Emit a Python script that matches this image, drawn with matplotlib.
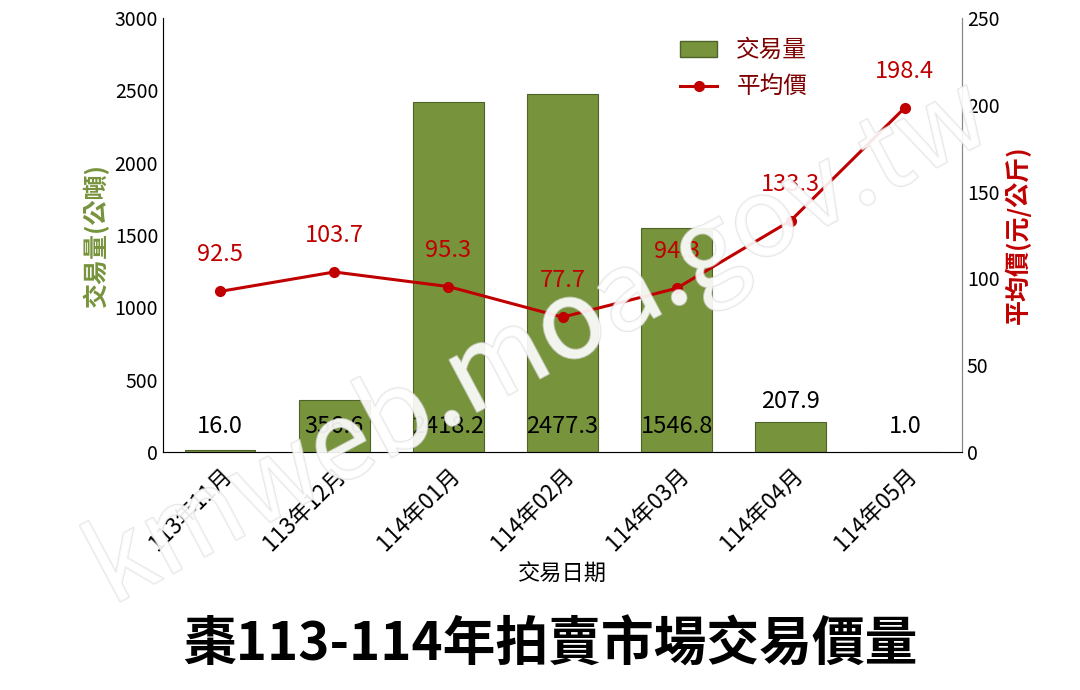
import matplotlib
matplotlib.use("Agg")
import matplotlib.pyplot as plt
import matplotlib.patheffects as pe
from matplotlib.patches import Patch
from matplotlib.lines import Line2D

plt.rcParams['font.family'] = ['Noto Sans CJK TC', 'DejaVu Sans']

months = ["113年11月", "113年12月", "114年01月", "114年02月", "114年03月", "114年04月", "114年05月"]
volume = [16.0, 356.6, 2418.2, 2477.3, 1546.8, 207.9, 1.0]
price = [92.5, 103.7, 95.3, 77.7, 94.3, 133.3, 198.4]

bar_c = "#77933C"
line_c = "#C00000"

fig = plt.figure(figsize=(10.8, 6.9), dpi=100)
ax = fig.add_axes([163/1080, 1-452/690, (962-163)/1080, (452-18)/690])
x = list(range(len(months)))
ax.bar(x, volume, width=0.62, color=bar_c, edgecolor="#4F6228", linewidth=0.8, zorder=2)
ax.set_ylim(0, 3000)
ax.set_yticks(range(0, 3001, 500))
ax.set_xlim(-0.5, 6.5)
ax.set_xticks(x)
ax.set_xticklabels(months, rotation=45, ha="right", rotation_mode="anchor", fontsize=16)
ax.tick_params(axis='y', labelsize=14, length=0)
ax.tick_params(axis='x', length=0, pad=8)
ax.set_ylabel("交易量(公噸)", color=bar_c, fontsize=18, fontweight="bold")
ax.set_xlabel("交易日期", fontsize=16, labelpad=6)
ax.spines["top"].set_visible(False)
for s in ["left", "right", "bottom"]:
    ax.spines[s].set_color("#888888")
for xi, v in zip(x, volume):
    ly = v + 60 if 150 < v < 300 else 100
    ax.text(xi, ly, f"{v:.1f}", ha="center", va="bottom", fontsize=17, color="black", zorder=5)

ax2 = ax.twinx()
ax2.plot(x, price, color=line_c, lw=2.2, marker="o", ms=7, zorder=4)
ax2.set_ylim(0, 250)
ax2.set_yticks(range(0, 251, 50))
ax2.tick_params(axis='y', labelsize=14, length=0)
ax2.set_ylabel("平均價(元/公斤)", color=line_c, fontsize=18, fontweight="bold")
ax2.spines["top"].set_visible(False)
ax2.spines["right"].set_color("#888888")
for xi, p in zip(x, price):
    ax2.annotate(f"{p:.1f}", (xi, p), xytext=(0, 18), textcoords="offset points",
                 ha="center", va="bottom", fontsize=17, color=line_c)

handles = [Patch(facecolor=bar_c, edgecolor="#4F6228"),
           Line2D([0], [0], color=line_c, lw=2.2, marker="o", ms=7)]
leg = ax2.legend(handles, ["交易量", "平均價"], loc="upper left", bbox_to_anchor=(0.62, 1.0),
                 frameon=False, fontsize=17, handlelength=1.6, labelspacing=0.6)
for t in leg.get_texts():
    t.set_color("#7F0000")

fig.text(0.5, 0.5, "kmweb.moa.gov.tw", rotation=28, fontsize=78, color="white",
         alpha=0.7, ha="center", va="center", zorder=10,
         path_effects=[pe.withStroke(linewidth=1.5, foreground="#dddddd")])

fig.text(0.51, 1-645/690, "棗113-114年拍賣市場交易價量", ha="center", va="center",
         fontsize=38, fontweight="bold")
fig.savefig("out.png", dpi=100)
